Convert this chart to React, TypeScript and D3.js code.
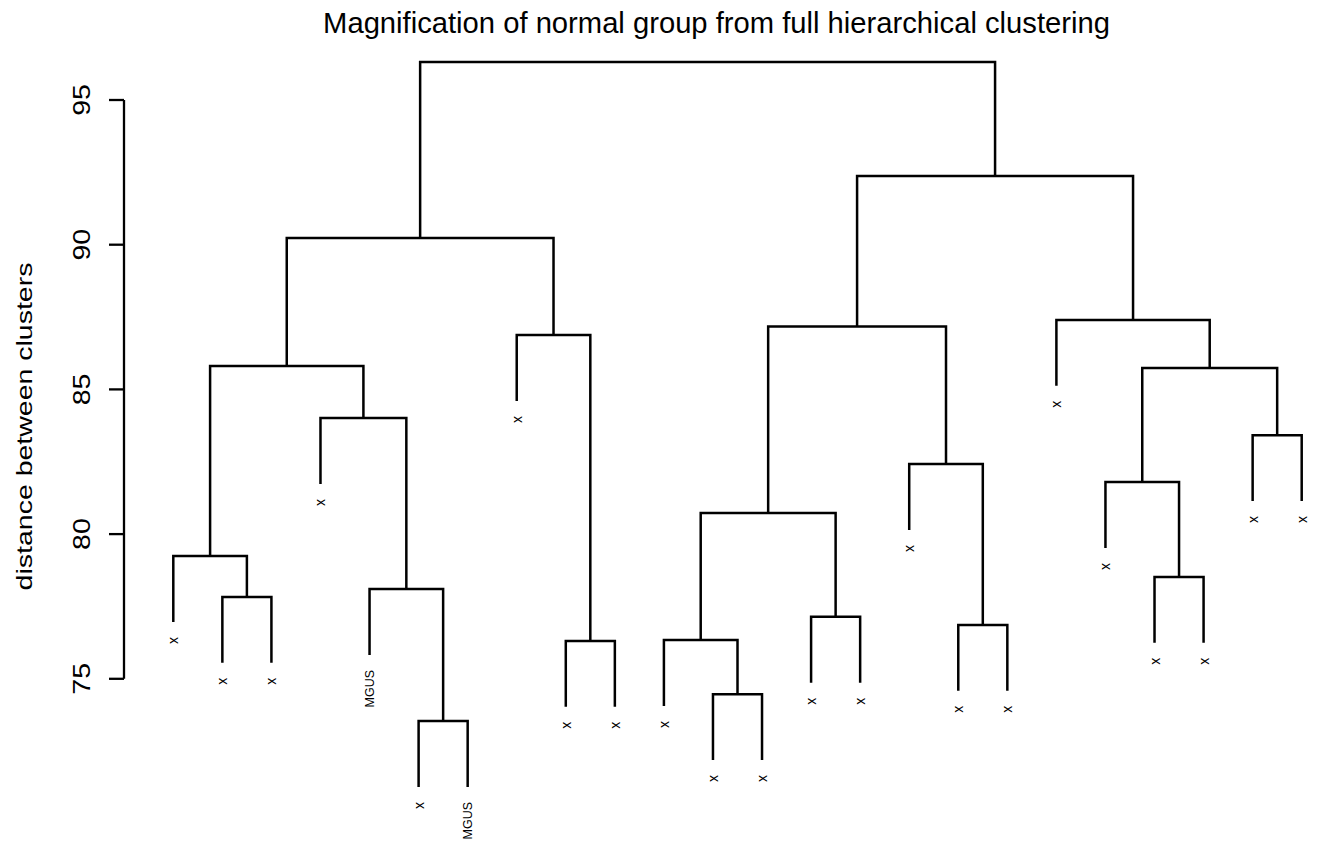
import React from "react";
import * as d3 from "d3";

// leaf labels in display order
const leafLabels = [
  "x", "x", "x", "x", "MGUS", "x", "MGUS", "x", "x", "x", "x", "x",
  "x", "x", "x", "x", "x", "x", "x", "x", "x", "x", "x", "x",
];

// hclust-style merge table: negative = leaf (display position), positive = earlier merge
const mergeLeft = [-2, -1, -6, -5, -4, 2, -9, -8, 6, -12, -11, -14, 11, -17, -16, 13, -21, -20, -23, 18, -19, 16, 9];
const mergeRight = [-3, 1, -7, 3, 4, 5, -10, 7, 8, -13, 10, -15, 12, -18, 14, 15, -22, 17, -24, 19, 20, 21, 22];
const mergeHeight = [
  77.83, 79.24, 73.54, 78.1, 84.01, 85.81, 76.31, 86.88, 90.23, 74.47, 76.34, 77.14,
  80.73, 76.86, 82.42, 87.17, 78.52, 81.8, 83.42, 85.74, 87.4, 92.37, 96.31,
];

const yTicks = [75, 80, 85, 90, 95];

const title = "Magnification of normal group from full hierarchical clustering";
const yLabel = "distance between clusters";

const width = 1317;
const height = 844;
const font = "'Liberation Sans', Arial, Helvetica, sans-serif";

export default function App() {
  const n = leafLabels.length;
  const x = d3.scaleLinear().domain([1, n]).range([173.3, 1301.7]);
  const y = d3.scaleLinear().domain([75, 95]).range([678.8, 100]);

  const hang = 0.1 * (d3.max(mergeHeight)! - d3.min(mergeHeight)!);

  // x position of each merge = midpoint of its two children
  const nodeX: number[] = [];
  const childX = (c: number) => (c < 0 ? -c : nodeX[c - 1]);
  mergeHeight.forEach((_, i) => {
    nodeX.push((childX(mergeLeft[i]) + childX(mergeRight[i])) / 2);
  });

  const leafBottom: number[] = new Array(n + 1).fill(0);
  const childY = (c: number, h: number) => {
    if (c < 0) {
      leafBottom[-c] = h - hang;
      return h - hang;
    }
    return mergeHeight[c - 1];
  };

  const paths = mergeHeight.map((h, i) => {
    const l = mergeLeft[i];
    const r = mergeRight[i];
    const xl = x(childX(l));
    const xr = x(childX(r));
    const yl = y(childY(l, h));
    const yr = y(childY(r, h));
    return `M${xl},${yl}V${y(h)}H${xr}V${yr}`;
  });

  const axisX = 124;

  return (
    <svg
      width={width}
      height={height}
      style={{ position: "absolute", left: 0, top: 0, background: "#fff" }}
      fontFamily={font}
    >
      <rect width={width} height={height} fill="#fff" />

      {/* title */}
      <text x={716.5} y={33} textAnchor="middle" fontSize={29.2} fill="#000">
        {title}
      </text>

      {/* y axis */}
      <g stroke="#000" strokeWidth={2.3} fill="none">
        <line x1={axisX} x2={axisX} y1={y(75)} y2={y(95)} />
        {yTicks.map((t) => (
          <line key={t} x1={axisX - 15} x2={axisX} y1={y(t)} y2={y(t)} />
        ))}
      </g>
      {yTicks.map((t) => (
        <text
          key={"l" + t}
          transform={`translate(90,${y(t)}) rotate(-90) scale(1,0.85)`}
          textAnchor="middle"
          fontSize={28.5}
          fill="#000"
        >
          {t}
        </text>
      ))}
      <text
        transform={`translate(32,426.5) rotate(-90) scale(1,0.8)`}
        textAnchor="middle"
        fontSize={28.5}
        fill="#000"
      >
        {yLabel}
      </text>

      {/* dendrogram */}
      <g stroke="#000" strokeWidth={2.5} fill="none" strokeLinejoin="miter" strokeLinecap="butt">
        {paths.map((d, i) => (
          <path key={i} d={d} />
        ))}
      </g>

      {/* leaf labels */}
      {leafLabels.map((lab, i) => (
        <text
          key={"leaf" + i}
          transform={`translate(${x(i + 1)},${y(leafBottom[i + 1]) + 15}) rotate(-90)`}
          textAnchor="end"
          dominantBaseline="central"
          fontSize={lab === "x" ? 14 : 12.5}
          fill="#000"
        >
          {lab}
        </text>
      ))}
    </svg>
  );
}
